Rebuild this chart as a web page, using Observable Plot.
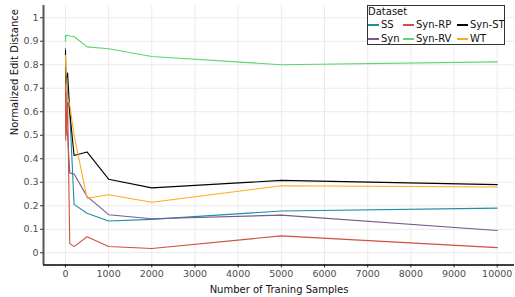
<!DOCTYPE html>
<html><head><meta charset="utf-8">
<script src="https://cdn.jsdelivr.net/npm/d3@7"></script>
<script src="https://cdn.jsdelivr.net/npm/@observablehq/plot@0.6"></script>
<style>
body{margin:0;background:#fff;font-family:"DejaVu Sans",sans-serif;}
#wrap{position:relative;width:515px;height:297px;}
#legend{position:absolute;left:367px;top:5px;width:138px;height:40px;border:1px solid #333;background:#fff;font-size:10px;color:#111;box-sizing:border-box;}
#legend .t{position:absolute;left:0px;top:0px;line-height:12px;}
#legend .i{position:absolute;white-space:nowrap;line-height:12px;}
#legend .k{display:inline-block;width:11px;height:1.5px;vertical-align:middle;margin-right:2px;}
</style></head>
<body><div id="wrap"><div id="legend"></div></div>
<script>
const samples = [1, 5, 10, 20, 50, 100, 200, 500, 1000, 2000, 5000, 10000];
const seriesNames = ["SS", "Syn", "Syn-RP", "Syn-RV", "Syn-ST", "WT"];
const SS     = [0.87, 0.80, 0.62, 0.75, 0.66, 0.60, 0.206, 0.168, 0.135, 0.142, 0.178, 0.190];
const Syn    = [0.80, 0.70, 0.60, 0.55, 0.50, 0.340, 0.335, 0.240, 0.162, 0.145, 0.160, 0.095];
const SynRP  = [0.72, 0.48, 0.70, 0.50, 0.64, 0.040, 0.026, 0.068, 0.027, 0.018, 0.072, 0.022];
const SynRV  = [0.900, 0.925, 0.915, 0.925, 0.925, 0.922, 0.920, 0.876, 0.868, 0.835, 0.800, 0.812];
const SynST  = [0.86, 0.75, 0.72, 0.74, 0.765, 0.60, 0.414, 0.429, 0.313, 0.276, 0.308, 0.290];
const WT     = [0.84, 0.80, 0.78, 0.70, 0.66, 0.628, 0.50, 0.232, 0.247, 0.215, 0.285, 0.280];
const colors = ["#1b8fa6", "#7a5a8c", "#d2503c", "#5dd66c", "#000000", "#ffab1c"];
const xTicks = [0,1000,2000,3000,4000,5000,6000,7000,8000,9000,10000];
const yTicks = [0,0.1,0.2,0.3,0.4,0.5,0.6,0.7,0.8,0.9,1];

const allSeries = [SS, Syn, SynRP, SynRV, SynST, WT];
const data = [];
seriesNames.forEach((s, si) => samples.forEach((x, i) => data.push({Dataset: s, x, y: allSeries[si][i]})));
const yFmt = d => d === 0 ? "0" : d === 1 ? "1" : d3.format(".1f")(d);

const plot = Plot.plot({
  width: 515, height: 297,
  marginLeft: 43, marginRight: 1, marginTop: 5, marginBottom: 32.5,
  style: {fontFamily: "DejaVu Sans, sans-serif", fontSize: "9.5px", background: "#fff"},
  x: {domain: [-508, 10400], ticks: xTicks, tickFormat: d => String(d), label: null},
  y: {domain: [-0.052, 1.052], ticks: yTicks, tickFormat: yFmt, label: null},
  color: {domain: seriesNames, range: colors},
  marks: [
    Plot.gridX(xTicks, {stroke: "#ebebeb", strokeOpacity: 1, strokeWidth: 1}),
    Plot.gridY(yTicks, {stroke: "#ebebeb", strokeOpacity: 1, strokeWidth: 1}),
    Plot.line(data, {x: "x", y: "y", z: "Dataset", stroke: "Dataset", strokeWidth: 1.1}),
    Plot.axisX(xTicks, {tickSize: 3, tickPadding: 2, fill: "#4d4d4d", stroke: "#333", fontSize: 9.5, label: null, tickFormat: d => String(d)}),
    Plot.axisY(yTicks, {tickSize: 3, tickPadding: 2, fill: "#4d4d4d", stroke: "#333", fontSize: 9.5, label: null, tickFormat: yFmt}),
    Plot.ruleX([-508], {stroke: "#555", strokeWidth: 2}),
    Plot.ruleY([-0.052], {stroke: "#000", strokeWidth: 1.3}),
    Plot.text(["Number of Traning Samples"], {frameAnchor: "bottom", dy: 28, fill: "#111", fontSize: 10}),
    Plot.text(["Normalized Edit Distance"], {frameAnchor: "left", dx: -29, rotate: -90, fill: "#111", fontSize: 10})
  ]
});
document.getElementById("wrap").prepend(plot);

const lg = document.getElementById("legend");
lg.innerHTML = '<div class="t">Dataset</div>';
const cols = [0, 35, 89];
const order = [["SS","Syn-RP","Syn-ST"],["Syn","Syn-RV","WT"]];
order.forEach((row, r) => row.forEach((name, c) => {
  const d = document.createElement("div");
  d.className = "i";
  d.style.left = cols[c] + "px";
  d.style.top = (13 + r * 14) + "px";
  d.innerHTML = '<span class="k" style="background:' + colors[seriesNames.indexOf(name)] + '"></span>' + name;
  lg.appendChild(d);
}));
</script></body></html>
